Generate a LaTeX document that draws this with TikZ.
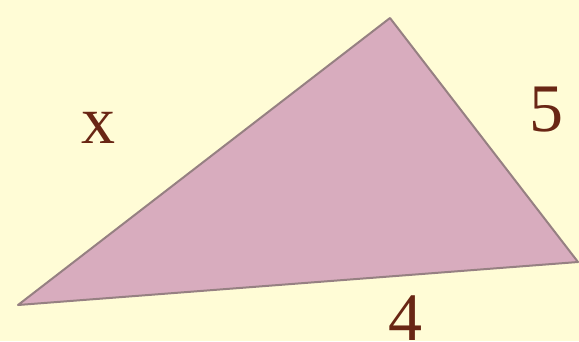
\documentclass[tikz,border=0pt]{standalone}
\usepackage{fontspec}
\setmainfont{Liberation Serif}
\definecolor{paper}{RGB}{255,252,214}
\definecolor{rose}{RGB}{216,172,190}
\definecolor{rim}{RGB}{150,128,130}
\definecolor{ink}{RGB}{105,38,20}

\begin{document}
\begin{tikzpicture}[
  x=1pt, y=-1pt,
  side label/.style={text=ink, font=\fontsize{68}{72}\selectfont, inner sep=0pt}
]
\fill[paper] (0,0) rectangle (579,341);
\useasboundingbox (0,0) rectangle (579,341);
\coordinate (left) at (18,305);
\coordinate (top) at (390,18);
\coordinate (right) at (578,262);
\filldraw[fill=rose, draw=rim, line width=2pt, line join=round]
  (left) -- (top) -- (right) -- cycle;
\node[side label] (x) at (98,128) {x};
\node[side label] (five) at (546,110) {5};
\node[side label] (four) at (405,318) {4};

\end{tikzpicture}
\end{document}
